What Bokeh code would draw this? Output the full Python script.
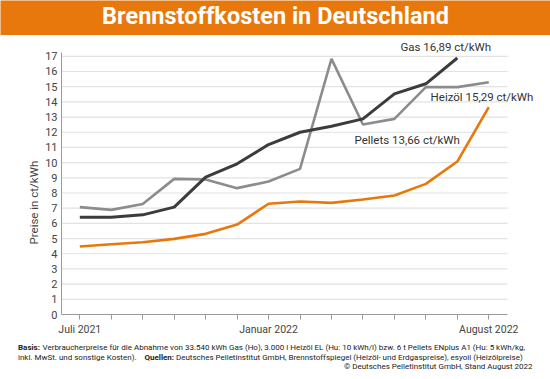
from bokeh.plotting import figure
from bokeh.layouts import column, row
from bokeh.models import FixedTicker, Label, Range1d, Title
from bokeh.embed import file_html
from bokeh.resources import INLINE

# ---- data (ct/kWh), monthly from July 2021 ----
months = ["Jul 2021", "Aug 2021", "Sep 2021", "Okt 2021", "Nov 2021", "Dez 2021",
          "Jan 2022", "Feb 2022", "Mrz 2022", "Apr 2022", "Mai 2022", "Jun 2022",
          "Jul 2022", "Aug 2022"]
gas = [6.41, 6.41, 6.56, 7.07, 9.04, 9.92, 11.19, 12.0, 12.4, 12.88, 14.53, 15.19, 16.89]
heizoel = [7.07, 6.89, 7.28, 8.93, 8.89, 8.32, 8.76, 9.59, 16.83, 12.51, 12.88, 14.97, 14.97, 15.29]
pellets = [4.48, 4.63, 4.76, 4.98, 5.31, 5.92, 7.29, 7.44, 7.35, 7.57, 7.83, 8.6, 10.07, 13.66]
x_tick_labels = {0: "Juli 2021", 6: "Januar 2022", 13: "August 2022"}
y_ticks = list(range(0, 18))

ORANGE = "#e8780c"
TXT = "#444444"
FONT = "Roboto"
W = 550


def bare(fig):
    fig.outline_line_color = None
    fig.xgrid.grid_line_color = None
    fig.ygrid.grid_line_color = None
    return fig


# ---------------- title bar ----------------
tf = bare(figure(width=W, height=35, output_backend="svg", toolbar_location=None,
                 x_range=Range1d(0, 550), y_range=Range1d(35, 0),
                 x_axis_location=None, y_axis_location=None,
                 min_border=0, background_fill_color=ORANGE, border_fill_color=ORANGE))
tf.add_layout(Label(x=275, y=15.5, text="Brennstoffkosten in Deutschland",
                    text_align="center", text_baseline="middle", text_color="white",
                    text_font=FONT, text_font_style="bold", text_font_size="23.5px"))

# ---------------- main chart ----------------
x_lo, x_hi = -0.582, 13.595
y_top = 17.27
p = figure(width=W, height=303, output_backend="svg", toolbar_location=None,
           x_range=Range1d(x_lo, 14.962), y_range=Range1d(0, 18.37),
           min_border_left=61, min_border_right=0, min_border_top=0, min_border_bottom=24,
           background_fill_color="#ffffff", border_fill_color="#ffffff")
bare(p)

# horizontal grid lines at the y ticks, ending where the x axis ends
p.segment(x0=[x_lo] * (len(y_ticks) - 1), x1=[x_hi] * (len(y_ticks) - 1),
          y0=y_ticks[1:], y1=y_ticks[1:], line_color="#e2e2e2", line_width=1.2)

p.xaxis.ticker = FixedTicker(ticks=list(range(len(months))))
p.xaxis.major_label_overrides = {i: x_tick_labels.get(i, "") for i in range(len(months))}
p.xaxis.bounds = (x_lo, x_hi)
p.xaxis.major_tick_out = 5
p.xaxis.major_tick_in = 0
p.xaxis.minor_tick_line_color = None
p.xaxis.axis_line_color = "#9a9a9a"
p.xaxis.major_tick_line_color = "#9a9a9a"
p.xaxis.major_label_text_font = FONT
p.xaxis.major_label_text_font_size = "10.5px"
p.xaxis.major_label_text_color = TXT
p.xaxis.major_label_standoff = 3

p.yaxis.ticker = FixedTicker(ticks=y_ticks)
p.yaxis.bounds = (0, y_top)
p.yaxis.major_tick_out = 0
p.yaxis.major_tick_in = 0
p.yaxis.minor_tick_line_color = None
p.yaxis.axis_line_color = "#9a9a9a"
p.yaxis.major_label_text_font = FONT
p.yaxis.major_label_text_font_size = "11px"
p.yaxis.major_label_text_color = TXT
p.yaxis.major_label_standoff = 4

p.add_layout(Title(text="Preise in ct/kWh", align="left", offset=70, standoff=3,
                   text_color=TXT, text_font=FONT, text_font_size="11.5px",
                   text_font_style="normal"), "left")

p.line(list(range(len(heizoel))), heizoel, line_color="#8c8c8c", line_width=2.6)
p.line(list(range(len(gas))), gas, line_color="#3c3c3e", line_width=3)
p.line(list(range(len(pellets))), pellets, line_color=ORANGE, line_width=2.6)

for xx, yy, t in [(10.19, 17.6, "Gas 16,89 ct/kWh"),
                  (11.15, 14.35, "Heizöl  15,29 ct/kWh"),
                  (8.73, 11.52, "Pellets 13,66 ct/kWh")]:
    p.add_layout(Label(x=xx, y=yy, text=t, text_align="left", text_baseline="middle",
                       text_color="#333333", text_font=FONT, text_font_size="11.5px"))

# ---------------- footnote ----------------
ff = bare(figure(width=W, height=41, output_backend="svg", toolbar_location=None,
                 x_range=Range1d(0, 550), y_range=Range1d(379, 338),
                 x_axis_location=None, y_axis_location=None, min_border=0,
                 background_fill_color="#ffffff", border_fill_color="#ffffff"))
FS = "8px"
foot = [
    (17.5, 346.5, "Basis:", "bold", "left"),
    (42.0, 346.5, "Verbraucherpreise für die Abnahme von 33.540 kWh Gas (Ho), 3.000 l Heizöl EL (Hu: 10 kWh/l) bzw. 6 t Pellets ENplus A1 (Hu: 5 kWh/kg,", "normal", "left"),
    (17.5, 356.5, "inkl. MwSt. und sonstige Kosten).", "normal", "left"),
    (144.0, 356.5, "Quellen:", "bold", "left"),
    (175.4, 356.5, "Deutsches Pelletinstitut GmbH, Brennstoffspiegel (Heizöl- und Erdgaspreise), esyoil (Heizölpreise)", "normal", "left"),
    (532.0, 366.0, "© Deutsches Pelletinstitut GmbH, Stand August 2022", "normal", "right"),
]
for fx, fy, t, st, al in foot:
    ff.add_layout(Label(x=fx, y=fy, text=t, text_align=al, text_baseline="middle",
                        text_color="#222222", text_font=FONT, text_font_style=st,
                        text_font_size=FS))

layout = column(row(tf), p, row(ff), spacing=0)
open("out.html", "w").write(file_html(layout, INLINE))
